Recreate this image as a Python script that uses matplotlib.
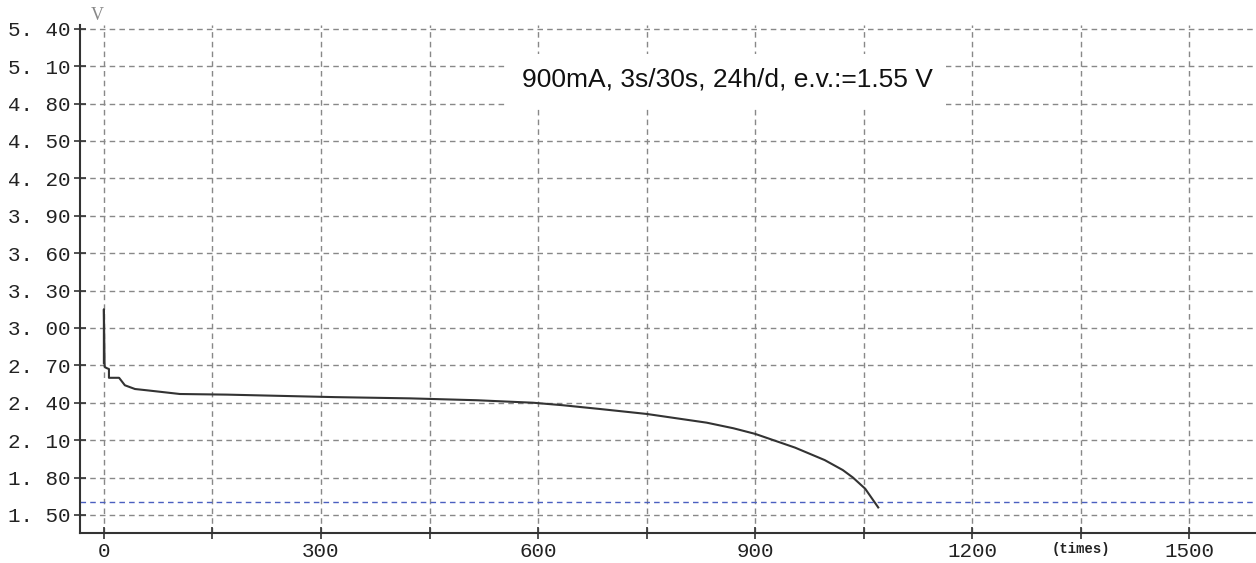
import numpy as np
import matplotlib
matplotlib.use("Agg")
import matplotlib.pyplot as plt

# discharge curve
times = [0, 0, 1, 3, 7, 7, 21, 29, 43, 59, 105, 170, 266, 319, 423, 515, 593,
         634, 685, 750, 833, 870, 900, 925, 955, 996, 1021, 1035, 1052, 1070]
volts = [2.72, 3.15, 2.69, 2.68, 2.67, 2.60, 2.60, 2.54, 2.51, 2.50, 2.47, 2.465,
         2.452, 2.445, 2.435, 2.42, 2.40, 2.38, 2.35, 2.31, 2.24, 2.195, 2.15,
         2.10, 2.04, 1.94, 1.86, 1.80, 1.71, 1.56]

end_voltage = 1.60
title_text = "900mA, 3s/30s, 24h/d, e.v.:=1.55 V"

yticks = [1.50, 1.80, 2.10, 2.40, 2.70, 3.00, 3.30, 3.60, 3.90, 4.20, 4.50,
          4.80, 5.10, 5.40]
ytick_labels = ["%d. %02d" % (int(v), round((v - int(v)) * 100)) for v in yticks]
xticks = list(range(0, 1501, 150))
xtick_labels = ["0", "", "300", "", "600", "", "900", "", "1200", "(times)", "1500"]

fig = plt.figure(figsize=(12.56, 5.63), dpi=100)
ax = fig.add_axes([80 / 1256, 1 - 533 / 563, 1 - 80 / 1256, (533 - 25) / 563])

ax.plot(times, volts, color="#333333", lw=1.5, zorder=3)
ax.axhline(end_voltage, color="#4a5fc0", lw=1, ls=(0, (4, 3)), zorder=2)

ax.set_xlim(-33, 1592)
ax.set_ylim(1.355, 5.43)

ax.set_xticks(xticks)
ax.set_xticklabels(xtick_labels, family="Liberation Mono", fontsize=15, color="#222222")
for t in ax.get_xticklabels():
    if t.get_text() == "(times)":
        t.set_fontsize(10)
        t.set_fontweight("bold")
ax.set_yticks(yticks)
ax.set_yticklabels(ytick_labels, family="Liberation Mono", fontsize=15, color="#222222")

ax.tick_params(direction="inout", length=9, width=1.2, color="#333333", pad=2)
ax.grid(True, color="#888888", lw=1, ls=(0, (4, 3)))

for s in ["top", "right"]:
    ax.spines[s].set_visible(False)
for s in ["left", "bottom"]:
    ax.spines[s].set_linewidth(1.5)
    ax.spines[s].set_color("#333333")

fig.text(727 / 1256, 1 - 80 / 563, title_text, ha="center", va="center",
         family="Liberation Sans", fontsize=19, color="#111111",
         bbox=dict(facecolor="white", edgecolor="none", pad=10))
fig.text(97 / 1256, 1 - 16 / 563, "V", ha="center", va="center",
         family="Liberation Serif", fontsize=13, color="#888888")

fig.savefig("out.png", dpi=100)
